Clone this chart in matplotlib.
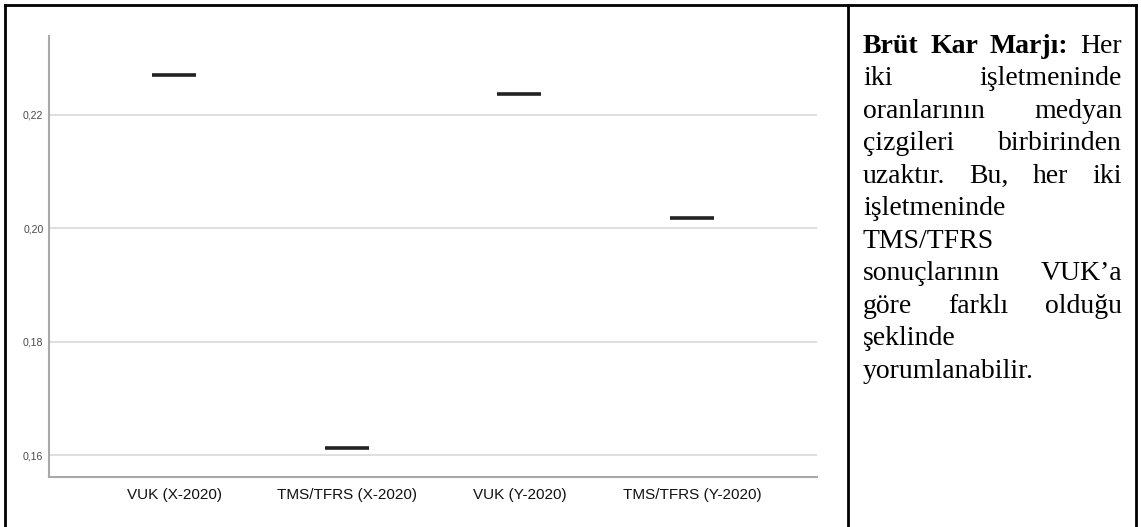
import matplotlib
matplotlib.use("Agg")
import matplotlib.pyplot as plt
from matplotlib.lines import Line2D

# medians
groups = ["VUK (X-2020)", "TMS/TFRS (X-2020)", "VUK (Y-2020)", "TMS/TFRS (Y-2020)"]
medians = [0.2271, 0.1612, 0.2237, 0.2019]
yticks = [0.16, 0.18, 0.20, 0.22]
ytick_labels = ["0,16", "0,18", "0,20", "0,22"]

# right-hand commentary, one list per printed line, (word, bold)
note_lines = [
    [("Brüt", True), ("Kar", True), ("Marjı:", True), ("Her", False)],
    [("iki", False), ("işletmeninde", False)],
    [("oranlarının", False), ("medyan", False)],
    [("çizgileri", False), ("birbirinden", False)],
    [("uzaktır.", False), ("Bu,", False), ("her", False), ("iki", False)],
    [("işletmeninde", False)],
    [("TMS/TFRS", False)],
    [("sonuçlarının", False), ("VUK’a", False)],
    [("göre", False), ("farklı", False), ("olduğu", False)],
    [("şeklinde", False)],
    [("yorumlanabilir.", False)],
]

W, H = 1141, 527
fig = plt.figure(figsize=(W / 100, H / 100), dpi=100)
fig.patch.set_facecolor("white")

ax = fig.add_axes([49 / W, 1 - 477 / H, (817 - 49) / W, (477 - 36) / H])
x = list(range(len(groups)))
ax.hlines(medians, [i - 0.127 for i in x], [i + 0.127 for i in x],
          colors="#222222", linewidth=2.6)

ax.set_xlim(-0.724, 3.724)
ax.set_ylim(0.15612, 0.23394)
ax.set_yticks(yticks)
ax.set_yticklabels(ytick_labels)
ax.set_xticks(x)
ax.set_xticklabels(groups)
ax.grid(axis="y", color="#dcdcdc", linewidth=1.3)
ax.set_axisbelow(True)
ax.tick_params(axis="both", length=0)
ax.tick_params(axis="y", labelsize=7.6, labelcolor="#4a4a4a", pad=4)
ax.tick_params(axis="x", labelsize=11, labelcolor="#111111", pad=8)
for lab in ax.get_xticklabels() + ax.get_yticklabels():
    lab.set_family("Liberation Sans")
for s in ["top", "right"]:
    ax.spines[s].set_visible(False)
for s in ["left", "bottom"]:
    ax.spines[s].set_color("#a8a8a8")
    ax.spines[s].set_linewidth(1.5)

# table borders
def fline(xs, ys):
    fig.add_artist(Line2D([v / W for v in xs], [1 - v / H for v in ys],
                          color="black", linewidth=2.0, transform=fig.transFigure))

fline([4.5, 1136], [5, 5])
fline([4.5, 4.5], [5, H])
fline([848, 848], [5, H])
fline([1136, 1136], [5, H])

# justified note text
renderer = fig.canvas.get_renderer()
left, right = 863, 1122
base0, step = 52.7, 32.5
for k, words in enumerate(note_lines):
    y = 1 - (base0 + k * step) / H
    texts = []
    for w, b in words:
        t = fig.text(0, y, w, fontsize=20, family="Liberation Serif",
                     fontweight="bold" if b else "normal", color="black",
                     va="baseline", ha="left")
        texts.append(t)
    widths = [t.get_window_extent(renderer).width for t in texts]
    if len(texts) > 1:
        gap = (right - left - sum(widths)) / (len(texts) - 1)
    else:
        gap = 0
    pos = left
    for t, wd in zip(texts, widths):
        t.set_x(pos / W)
        pos += wd + gap

fig.savefig("out.png", dpi=100, facecolor="white")
